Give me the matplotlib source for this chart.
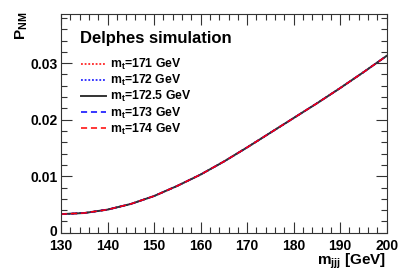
import matplotlib
matplotlib.use("Agg")
import matplotlib.pyplot as plt
import matplotlib.transforms as mtransforms
from matplotlib.ticker import MultipleLocator

plt.rcParams['font.family'] = ['Liberation Sans', 'DejaVu Sans']
plt.rcParams['font.weight'] = 'bold'
plt.rcParams['mathtext.fontset'] = 'custom'
plt.rcParams['mathtext.rm'] = 'Liberation Sans:bold'
plt.rcParams['mathtext.it'] = 'Liberation Sans:bold'
plt.rcParams['mathtext.bf'] = 'Liberation Sans:bold'

# m_jjj en GeV et P_NM
m_jjj = [130, 132.5, 135, 137.5, 140, 142.5, 145, 147.5, 150, 155, 160, 165,
         170, 175, 180, 185, 190, 195, 200]
p_nm = [0.0033, 0.0034, 0.0035, 0.0038, 0.0041, 0.0046, 0.0051, 0.0058,
        0.0065, 0.0083, 0.0103, 0.0126, 0.0151, 0.0177, 0.0203, 0.0229,
        0.0256, 0.0284, 0.0313]

masses = ["171", "172", "172.5", "173", "174"]
couleurs = ['red', 'blue', '#333333', 'blue', 'red']
styles = [(0, (1.2, 1.2)), (0, (1.2, 1.2)), '-', (0, (4, 2.5)), (0, (4, 2.5))]

fig = plt.figure(figsize=(4.07, 2.74), dpi=100)
ax = fig.add_axes([61/407, 1 - 232.8/274, 325.7/407, 218.8/274])

for m, c, ls in zip(masses, couleurs, styles):
    lw = 1.4 if ls == '-' else 1.1
    ax.plot(m_jjj, p_nm, color=c, ls=ls, lw=lw, label=r"m$_{\rm t}$=" + m + " GeV")

ax.set_xlim(130, 200)
ax.set_ylim(0, 0.0387)
ax.xaxis.set_major_locator(MultipleLocator(10))
ax.xaxis.set_minor_locator(MultipleLocator(2))
ax.yaxis.set_major_locator(MultipleLocator(0.01))
ax.yaxis.set_minor_locator(MultipleLocator(0.002))
ax.tick_params(which='both', direction='in', top=True, right=True,
               labelsize=10, width=0.8, color='#333333')
ax.tick_params(which='major', length=8)
ax.tick_params(which='minor', length=4)
ax.tick_params(axis='y', pad=2.5)
ax.tick_params(axis='x', pad=4.5)
ax.set_yticks([0, 0.01, 0.02, 0.03])
ax.set_yticklabels(["0", "0.01", "0.02", "0.03"])
for s in ax.spines.values():
    s.set_color('#333333')
    s.set_linewidth(0.8)

# le "0" remonte un peu pour ne pas toucher le "130"
zero = ax.get_yticklabels()[0]
zero.set_transform(zero.get_transform() + mtransforms.ScaledTranslation(0, 2/100, fig.dpi_scale_trans))

fig.text(386/407, 1 - 265/274, r"m$_{\rm jjj}$ [GeV]", fontsize=11, ha='right', va='baseline')
fig.text(22/407, 1 - 12/274, r"P$_{\rm NM}$", fontsize=11, rotation=90, ha='center', va='top')

ax.text(0.058, 0.89, "Delphes simulation", transform=ax.transAxes, fontsize=12, va='center')
ax.legend(loc='upper left', bbox_to_anchor=(0.045, 0.825), frameon=False, fontsize=8.8,
          handlelength=2.1, handletextpad=0.35, labelspacing=0.08, borderaxespad=0)

fig.savefig("out.png", dpi=100)
